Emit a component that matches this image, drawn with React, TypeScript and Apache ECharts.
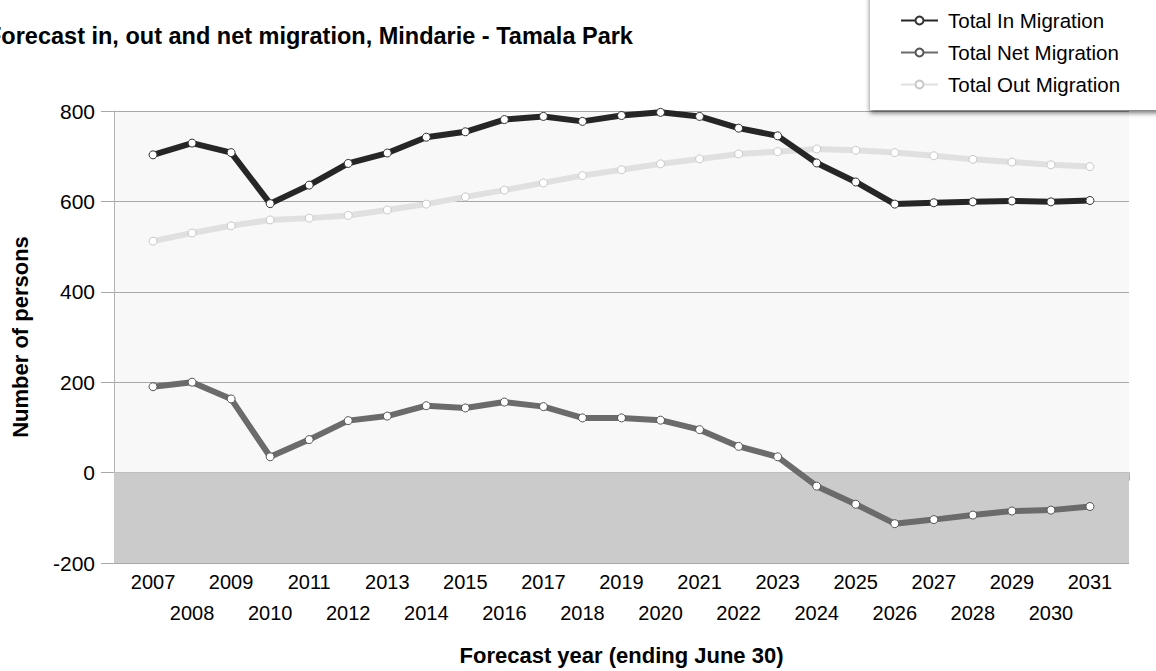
import React, { useEffect, useRef } from "react";
import * as echarts from "echarts";

const years: number[] = [
  2007, 2008, 2009, 2010, 2011, 2012, 2013, 2014, 2015, 2016, 2017, 2018, 2019,
  2020, 2021, 2022, 2023, 2024, 2025, 2026, 2027, 2028, 2029, 2030, 2031,
];
const inMigration: number[] = [
  703, 729, 708, 595, 636, 684, 707, 742, 754, 781, 788, 777, 790, 797, 788,
  762, 745, 685, 643, 594, 597, 599, 601, 599, 602,
];
const netMigration: number[] = [
  190, 200, 163, 35, 73, 115, 125, 148, 143, 156, 146, 121, 121, 116, 95, 58,
  35, -30, -70, -113, -104, -94, -85, -83, -75,
];
const outMigration: number[] = [
  512, 530, 546, 559, 563, 569, 581, 594, 610, 625, 641, 657, 670, 683, 694,
  705, 710, 716, 713, 708, 701, 693, 687, 681, 677,
];
const seriesNames: string[] = [
  "Total In Migration",
  "Total Net Migration",
  "Total Out Migration",
];
const titleText = "Forecast in, out and net migration, Mindarie - Tamala Park";
const yAxisTitle = "Number of persons";
const xAxisTitle = "Forecast year (ending June 30)";

const FONT = "'Liberation Sans', Arial, sans-serif";

const pairs = (vals: number[]) => years.map((y, i) => [y, vals[i]]);

export default function App() {
  const ref = useRef<HTMLDivElement>(null);
  useEffect(() => {
    if (!ref.current) return;
    const chart = echarts.init(ref.current, undefined, { renderer: "svg" });
    const mkSeries = (
      name: string,
      data: number[],
      color: string,
      border: string,
      z: number,
      extra: any = {}
    ) => ({
      name,
      type: "line",
      data: pairs(data),
      z,
      symbol: "circle",
      symbolSize: 8,
      showAllSymbol: true,
      lineStyle: { color, width: 6 },
      itemStyle: { color: "#ffffff", borderColor: border, borderWidth: 1 },
      emphasis: { disabled: true },
      ...extra,
    });
    chart.setOption({
      animation: false,
      textStyle: { fontFamily: FONT },
      graphic: [
        {
          type: "text",
          left: -13,
          top: 24,
          style: {
            text: titleText,
            font: `bold 23.5px ${FONT}`,
            fill: "#000",
          },
        },
      ],
      legend: {
        orient: "vertical",
        left: 870,
        top: -10,
        padding: [20, 60, 15, 30],
        itemWidth: 37,
        itemHeight: 10,
        itemGap: 11,
        backgroundColor: "#ffffff",
        shadowColor: "rgba(0,0,0,0.55)",
        shadowBlur: 5,
        shadowOffsetY: 3,
        textStyle: {
          fontFamily: FONT,
          fontSize: 20.5,
          color: "#000",
          padding: [0, 0, 0, 5],
        },
        data: seriesNames,
        selectedMode: false,
      },
      grid: {
        left: 114,
        right: 27,
        top: 111,
        bottom: 106,
        show: true,
        backgroundColor: "#f8f8f8",
        borderWidth: 0,
      },
      xAxis: {
        type: "value",
        min: 2006,
        max: 2032,
        interval: 1,
        name: xAxisTitle,
        nameLocation: "middle",
        nameGap: 81,
        nameTextStyle: {
          fontFamily: FONT,
          fontSize: 22,
          fontWeight: "bold",
          color: "#000",
        },
        axisLine: { show: true, lineStyle: { color: "#b0b0b0", width: 1 } },
        axisTick: {
          show: true,
          length: 8,
          lineStyle: { color: "#b0b0b0" },
        },
        splitLine: { show: false },
        axisLabel: {
          margin: 3,
          fontFamily: FONT,
          fontSize: 20,
          color: "#000",
          lineHeight: 31,
          formatter: (v: number) => {
            if (v < years[0] || v > years[years.length - 1]) return "";
            return v % 2 === 1 ? String(v) : "\n" + v;
          },
        },
      },
      yAxis: {
        type: "value",
        min: -200,
        max: 800,
        interval: 200,
        name: yAxisTitle,
        nameLocation: "middle",
        nameGap: 83,
        nameTextStyle: {
          fontFamily: FONT,
          fontSize: 22,
          fontWeight: "bold",
          color: "#000",
        },
        axisLine: { show: true, lineStyle: { color: "#b0b0b0", width: 1 } },
        axisTick: {
          show: true,
          length: 13,
          lineStyle: { color: "#a8a8a8" },
        },
        splitLine: { show: true, lineStyle: { color: "#a8a8a8", width: 1 } },
        axisLabel: {
          margin: 19,
          fontFamily: FONT,
          fontSize: 21,
          color: "#000",
        },
      },
      series: [
        mkSeries(seriesNames[0], inMigration, "#262626", "#333333", 4),
        mkSeries(seriesNames[1], netMigration, "#6b6b6b", "#555555", 4),
        mkSeries(seriesNames[2], outMigration, "#e0e0e0", "#c8c8c8", 3, {
          markArea: {
            silent: true,
            itemStyle: { color: "#cbcbcb" },
            data: [[{ yAxis: -200 }, { yAxis: 0 }]],
          },
        }),
      ],
    });
    return () => chart.dispose();
  }, []);
  return (
    <div
      ref={ref}
      style={{ position: "absolute", left: 0, top: 0, width: 1156, height: 671 }}
    />
  );
}
